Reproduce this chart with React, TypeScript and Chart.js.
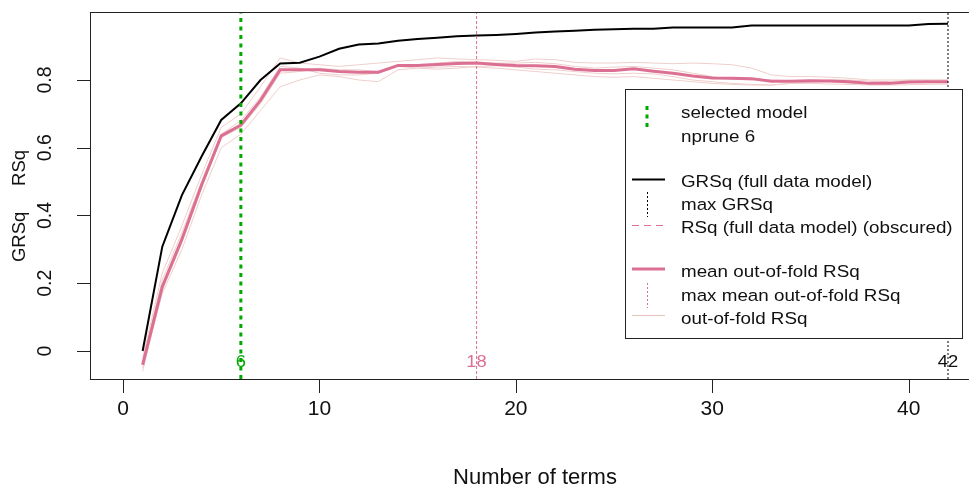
import React, { useEffect, useRef } from 'react';
import { Chart, registerables } from 'chart.js';

Chart.register(...registerables);

// ---------- data ----------
const terms = [
  1, 2, 3, 4, 5, 6, 7, 8, 9, 10, 11, 12, 13, 14, 15, 16, 17, 18, 19, 20, 21,
  22, 23, 24, 25, 26, 27, 28, 29, 30, 31, 32, 33, 34, 35, 36, 37, 38, 39, 40, 41, 42,
];

const grsq = [
  0, 0.308, 0.46, 0.574, 0.682, 0.731, 0.8, 0.849, 0.851, 0.869, 0.892, 0.905, 0.908, 0.916,
  0.921, 0.925, 0.929, 0.931, 0.933, 0.936, 0.94, 0.943, 0.945, 0.948, 0.95, 0.951, 0.951,
  0.955, 0.955, 0.955, 0.955, 0.961, 0.961, 0.961, 0.961, 0.961, 0.961, 0.961, 0.961, 0.961,
  0.965, 0.966,
];

const meanOofRsq = [
  -0.041, 0.19, 0.33, 0.49, 0.635, 0.667, 0.74, 0.83, 0.83, 0.83, 0.825, 0.823, 0.823, 0.843,
  0.843, 0.846, 0.849, 0.85, 0.846, 0.843, 0.842, 0.84, 0.832, 0.828, 0.828, 0.833, 0.826,
  0.82, 0.812, 0.806, 0.805, 0.804, 0.796, 0.796, 0.798, 0.797, 0.795, 0.79, 0.79, 0.794,
  0.795, 0.795,
];

const oofFold1 = [
  -0.02, 0.23, 0.37, 0.52, 0.66, 0.7, 0.78, 0.865, 0.85, 0.845, 0.84, 0.845, 0.85, 0.855,
  0.86, 0.865, 0.862, 0.86, 0.858, 0.855, 0.862, 0.86, 0.852, 0.85, 0.85, 0.852, 0.85, 0.848,
  0.85, 0.848, 0.845, 0.835, 0.815, 0.81, 0.81, 0.808, 0.805, 0.8, 0.8, 0.8, 0.8, 0.8,
];
const oofFold2 = [
  -0.05, 0.17, 0.3, 0.46, 0.6, 0.64, 0.71, 0.78, 0.8, 0.815, 0.81, 0.8, 0.795, 0.83, 0.835,
  0.838, 0.84, 0.838, 0.835, 0.83, 0.825, 0.82, 0.815, 0.81, 0.808, 0.81, 0.805, 0.8, 0.795,
  0.79, 0.787, 0.785, 0.785, 0.79, 0.79, 0.788, 0.787, 0.785, 0.785, 0.786, 0.787, 0.788,
];
const oofFold3 = [
  -0.03, 0.21, 0.35, 0.5, 0.64, 0.68, 0.75, 0.84, 0.835, 0.82, 0.815, 0.815, 0.82, 0.84,
  0.845, 0.85, 0.855, 0.852, 0.85, 0.85, 0.852, 0.848, 0.84, 0.835, 0.838, 0.84, 0.835, 0.83,
  0.82, 0.81, 0.802, 0.8, 0.8, 0.798, 0.797, 0.795, 0.79, 0.788, 0.79, 0.792, 0.793, 0.794,
];
const oofFold4 = [
  -0.06, 0.18, 0.32, 0.48, 0.63, 0.66, 0.73, 0.82, 0.825, 0.835, 0.83, 0.83, 0.825, 0.84,
  0.835, 0.832, 0.835, 0.84, 0.842, 0.838, 0.832, 0.83, 0.825, 0.82, 0.818, 0.82, 0.818,
  0.81, 0.8, 0.795, 0.79, 0.787, 0.785, 0.79, 0.795, 0.8, 0.8, 0.797, 0.795, 0.8, 0.8, 0.8,
];

const xTicks = [0, 10, 20, 30, 40];
const xTickLabels = ['0', '10', '20', '30', '40'];
const yTicks = [0, 0.2, 0.4, 0.6, 0.8];
const yTickLabels = ['0', '0.2', '0.4', '0.6', '0.8'];

const selectedTerms = 6;
const maxMeanOofTerms = 18;
const maxGrsqTerms = 42;

const xTitle = 'Number of terms';
const yTitle = 'GRSq     RSq';

const legendLabels = [
  'selected model',
  'nprune 6',
  'GRSq (full data model)',
  'max GRSq',
  'RSq (full data model) (obscured)',
  'mean out-of-fold RSq',
  'max mean out-of-fold RSq',
  'out-of-fold RSq',
];

// ---------- styles ----------
const X_MIN = -1.68;
const X_MAX = 43.68;
const Y_MIN = -0.0827;
const Y_MAX = 1.0007;

const GREEN = '#00a800';
const PINK = '#db7093';
const LIGHT_PINK = '#eecfcb';
const BLACK = '#000000';
const TEXT = '#111111';
const FONT = '"Liberation Sans", Arial, sans-serif';

const CANVAS_W = 1000;
const CANVAS_H = 491;
const AREA = { left: 90, top: 12, right: 981, bottom: 379 };

const pts = (ys: number[]) => terms.map((t, i) => ({ x: t, y: ys[i] }));
const vline = (x: number) => [
  { x, y: Y_MIN },
  { x, y: Y_MAX },
];

const rPlotPlugin = {
  id: 'rPlot',
  afterDraw(chart: any) {
    const ctx: CanvasRenderingContext2D = chart.ctx;
    const xs = chart.scales.x;
    const ys = chart.scales.y;
    const ca = chart.chartArea;

    const text = (
      s: string,
      x: number,
      y: number,
      size: number,
      color: string,
      align: CanvasTextAlign = 'center',
      rot = 0,
      sx = 1,
    ) => {
      ctx.save();
      ctx.translate(x, y);
      if (rot) ctx.rotate(rot);
      else ctx.scale(sx, 1);
      ctx.font = `${size}px ${FONT}`;
      ctx.fillStyle = color;
      ctx.textAlign = align;
      ctx.textBaseline = 'middle';
      ctx.fillText(s, 0, 0);
      ctx.restore();
    };

    ctx.save();
    // box
    ctx.strokeStyle = '#222';
    ctx.lineWidth = 1;
    ctx.setLineDash([]);
    ctx.strokeRect(ca.left + 0.5, ca.top + 0.5, ca.right - ca.left, ca.bottom - ca.top);

    // ticks
    ctx.beginPath();
    xTicks.forEach((v) => {
      const px = Math.round(xs.getPixelForValue(v)) + 0.5;
      ctx.moveTo(px, ca.bottom);
      ctx.lineTo(px, ca.bottom + 14);
    });
    yTicks.forEach((v) => {
      const py = Math.round(ys.getPixelForValue(v)) + 0.5;
      ctx.moveTo(ca.left, py);
      ctx.lineTo(ca.left - 13, py);
    });
    ctx.stroke();

    xTicks.forEach((v, i) => text(xTickLabels[i], xs.getPixelForValue(v), 409, 21, TEXT));
    yTicks.forEach((v, i) =>
      text(yTickLabels[i], 46, ys.getPixelForValue(v), 19.5, TEXT, 'center', -Math.PI / 2),
    );
    text(xTitle, 535, 478, 22, TEXT);
    text(yTitle, 20, 206, 18.5, TEXT, 'center', -Math.PI / 2);

    // vertical line labels
    const labY = 362;
    text(String(selectedTerms), xs.getPixelForValue(selectedTerms), labY, 17, GREEN, 'center', 0, 1.08);
    text(String(maxMeanOofTerms), xs.getPixelForValue(maxMeanOofTerms), labY, 17, PINK, 'center', 0, 1.08);
    text(String(maxGrsqTerms), xs.getPixelForValue(maxGrsqTerms), labY, 17, TEXT, 'center', 0, 1.08);

    // legend
    const L = { left: 625, top: 89, right: 962, bottom: 338 };
    ctx.fillStyle = '#fff';
    ctx.fillRect(L.left, L.top, L.right - L.left, L.bottom - L.top);
    ctx.strokeStyle = '#222';
    ctx.lineWidth = 1;
    ctx.strokeRect(L.left + 0.5, L.top + 0.5, L.right - L.left, L.bottom - L.top);

    const symX0 = 632;
    const symX1 = 665;
    const symXc = 647;
    const tx = 681;
    const seg = (
      x0: number, y0: number, x1: number, y1: number,
      color: string, w: number, dash: number[],
    ) => {
      ctx.beginPath();
      ctx.strokeStyle = color;
      ctx.lineWidth = w;
      ctx.setLineDash(dash);
      ctx.moveTo(x0, y0);
      ctx.lineTo(x1, y1);
      ctx.stroke();
      ctx.setLineDash([]);
    };
    seg(symXc, 106, symXc, 128, GREEN, 3, [4, 4.5]);
    seg(symX0, 179.5, symX1, 179.5, BLACK, 2, []);
    seg(symXc + 0.5, 192, symXc + 0.5, 217, BLACK, 1, [2, 2]);
    seg(symX0, 225.5, symX1, 225.5, PINK, 1, [7, 5]);
    seg(symX0, 269, symX1, 269, PINK, 3, []);
    seg(symXc + 0.5, 283, symXc + 0.5, 308, PINK, 1, [2, 2]);
    seg(symX0, 315.5, symX1, 315.5, '#e8c0bc', 1, []);

    const ly = [113, 137, 182, 205, 228, 272, 296, 319];
    legendLabels.forEach((s, i) => text(s, tx, ly[i], 16.8, TEXT, 'left', 0, 1.12));
    ctx.restore();
  },
};

export default function App() {
  const ref = useRef<HTMLCanvasElement>(null);

  useEffect(() => {
    document.body.style.margin = '0';
    const foldStyle = {
      borderColor: LIGHT_PINK,
      borderWidth: 1,
      pointRadius: 0,
    };
    const chart = new Chart(ref.current as HTMLCanvasElement, {
      type: 'line',
      data: {
        datasets: [
          {
            label: 'selected model',
            data: vline(selectedTerms),
            borderColor: GREEN,
            borderWidth: 3,
            borderDash: [4, 4.5],
            pointRadius: 0,
          },
          {
            label: 'max mean out-of-fold RSq',
            data: vline(maxMeanOofTerms),
            borderColor: PINK,
            borderWidth: 1,
            borderDash: [3, 2],
            pointRadius: 0,
          },
          {
            label: 'max GRSq',
            data: vline(maxGrsqTerms),
            borderColor: BLACK,
            borderWidth: 1,
            borderDash: [2, 2],
            pointRadius: 0,
          },
          {
            label: 'GRSq (full data model)',
            data: pts(grsq),
            borderColor: BLACK,
            borderWidth: 2,
            pointRadius: 0,
          },
          {
            label: 'mean out-of-fold RSq',
            data: pts(meanOofRsq),
            borderColor: PINK,
            borderWidth: 3,
            pointRadius: 0,
          },
          { label: 'fold 1', data: pts(oofFold1), ...foldStyle },
          { label: 'fold 2', data: pts(oofFold2), ...foldStyle },
          { label: 'fold 3', data: pts(oofFold3), ...foldStyle },
          { label: 'fold 4', data: pts(oofFold4), ...foldStyle },
        ],
      },
      options: {
        responsive: false,
        animation: false,
        devicePixelRatio: 1,
        layout: {
          padding: {
            left: AREA.left,
            top: AREA.top,
            right: CANVAS_W - AREA.right,
            bottom: CANVAS_H - AREA.bottom,
          },
        },
        scales: {
          x: { type: 'linear', min: X_MIN, max: X_MAX, display: false },
          y: { type: 'linear', min: Y_MIN, max: Y_MAX, display: false },
        },
        elements: { line: { tension: 0 }, point: { radius: 0 } },
        plugins: { legend: { display: false }, tooltip: { enabled: false } },
      },
      plugins: [rPlotPlugin],
    });
    return () => chart.destroy();
  }, []);

  return (
    <div
      style={{
        position: 'fixed',
        left: 0,
        top: 0,
        width: 969,
        height: 491,
        overflow: 'hidden',
        background: '#fff',
      }}
    >
      <canvas ref={ref} width={CANVAS_W} height={CANVAS_H} style={{ display: 'block' }} />
    </div>
  );
}
